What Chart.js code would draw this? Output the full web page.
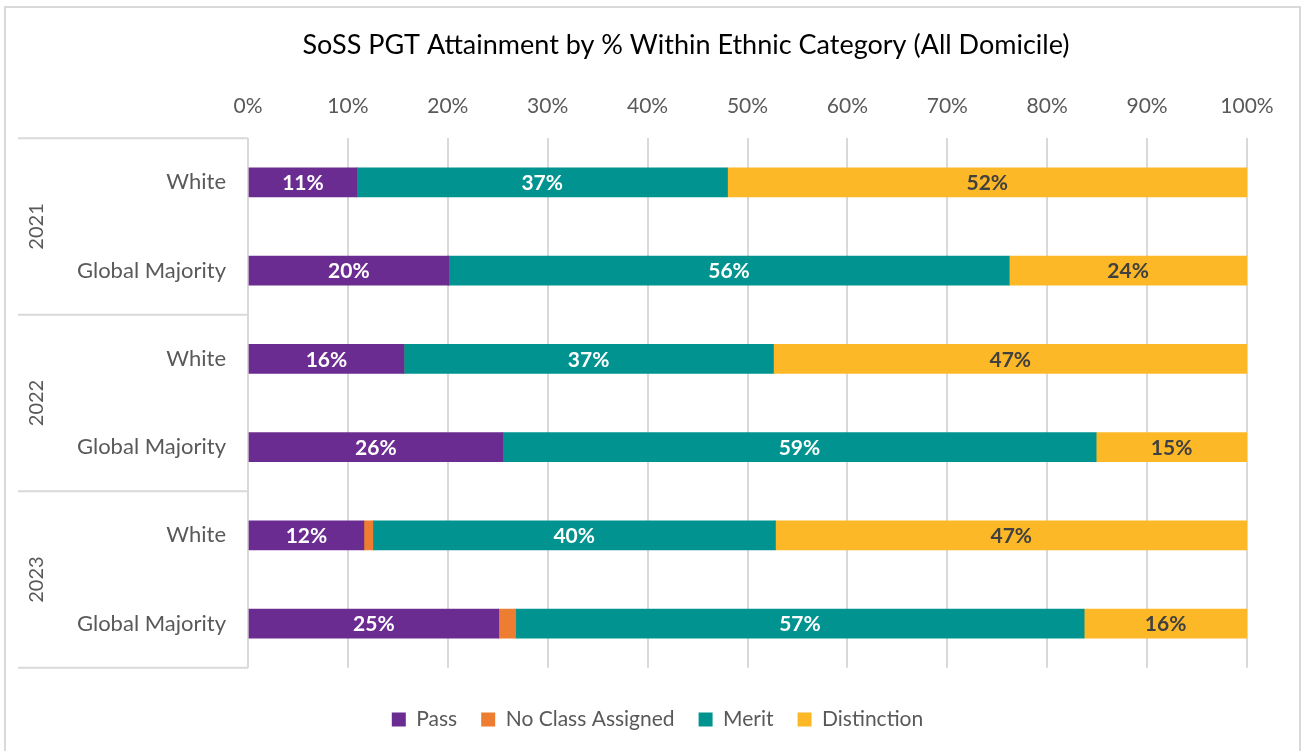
<!DOCTYPE html>
<html>
<head>
<meta charset="utf-8">
<script src="https://cdn.jsdelivr.net/npm/chart.js@4"></script>
<style>
  html, body { margin: 0; padding: 0; background: #fff; }
  #wrap { position: relative; width: 1303px; height: 751px; overflow: hidden; }
  #frame { position: absolute; left: 4px; top: 6px; width: 1297px; height: 770px; border: 2px solid #d9d9d9; box-sizing: border-box; pointer-events: none; }
</style>
</head>
<body>
<div id="wrap">
  <canvas id="chart1" width="1303" height="751"></canvas>
  <div id="frame"></div>
</div>
<script>
// DATA
// -----------------------------
let chartTitle = 'SoSS PGT Attainment by % Within Ethnic Category (All Domicile)';
let years = ['2021', '2022', '2023'];
let ethnicities = ['White', 'Global Majority'];
let rowLabels = ['White', 'Global Majority', 'White', 'Global Majority', 'White', 'Global Majority'];
let pass = [10.9, 20.1, 15.6, 25.5, 11.6, 25.1];
let noClass = [0, 0, 0, 0, 0.9, 1.7];
let merit = [37.1, 56.1, 37.0, 59.4, 40.3, 56.9];
let distinction = [52.0, 23.8, 47.4, 15.1, 47.2, 16.3];
let xTicks = [0, 10, 20, 30, 40, 50, 60, 70, 80, 90, 100];

const FONT = 'Lato, "Open Sans", sans-serif';
const GREY = '#595959';
const LINE = '#d9d9d9';

// title, drawn by hand so it can sit off-centre like the original
const titlePlugin = {
  id: 'titlePlugin',
  afterLayout(chart) {
    // nudge the legend to the right, as in the original
    chart.legend.left += 34;
    chart.legend.right += 34;
  },
  afterDraw(chart) {
    const ctx = chart.ctx;
    ctx.save();
    ctx.font = '27px ' + FONT;
    ctx.fillStyle = '#000000';
    ctx.textAlign = 'center';
    ctx.textBaseline = 'middle';
    ctx.fillText(chartTitle, 686, 45);
    ctx.restore();
  }
};

// value labels inside the bars
const barLabels = {
  id: 'barLabels',
  afterDatasetsDraw(chart) {
    const ctx = chart.ctx;
    ctx.save();
    ctx.font = 'bold 21px ' + FONT;
    ctx.textAlign = 'center';
    ctx.textBaseline = 'middle';
    chart.data.datasets.forEach((ds, i) => {
      if (!ds.labelColor) return;
      chart.getDatasetMeta(i).data.forEach((bar, j) => {
        const v = ds.data[j];
        if (v < 3) return;
        ctx.fillStyle = ds.labelColor;
        ctx.fillText(Math.round(v) + '%', (bar.x + bar.base) / 2, bar.y + 1);
      });
    });
    ctx.restore();
  }
};

// year groups on the left of the category labels
const yearGroups = {
  id: 'yearGroups',
  afterDraw(chart) {
    const ctx = chart.ctx;
    const area = chart.chartArea;
    const per = ethnicities.length;
    const step = (area.bottom - area.top) / rowLabels.length;
    ctx.save();
    ctx.strokeStyle = LINE;
    ctx.lineWidth = 2;
    for (let g = 0; g <= years.length; g++) {
      const y = area.top + g * per * step;
      ctx.beginPath();
      ctx.moveTo(18, y);
      ctx.lineTo(area.left, y);
      ctx.stroke();
    }
    ctx.fillStyle = GREY;
    ctx.font = '20px ' + FONT;
    ctx.textAlign = 'center';
    ctx.textBaseline = 'middle';
    years.forEach((yr, g) => {
      const cy = area.top + (g * per + per / 2) * step;
      ctx.save();
      ctx.translate(37, cy);
      ctx.rotate(-Math.PI / 2);
      ctx.fillText(yr, 0, 0);
      ctx.restore();
    });
    ctx.restore();
  }
};

let chart1Data = {
  type: 'bar',
  data: {
    labels: rowLabels,
    datasets: [
      { label: 'Pass', data: pass, backgroundColor: '#6b2c91', labelColor: '#ffffff' },
      { label: 'No Class Assigned', data: noClass, backgroundColor: '#ed7d31', labelColor: null },
      { label: 'Merit', data: merit, backgroundColor: '#009390', labelColor: '#ffffff' },
      { label: 'Distinction', data: distinction, backgroundColor: '#fdb827', labelColor: '#404040' },
    ],
  },
  options: {
    indexAxis: 'y',
    responsive: false,
    animation: false,
    events: [],
    barThickness: 29,
    layout: {
      padding: { top: 75, bottom: 11, left: 0, right: 56 },
    },
    scales: {
      x: {
        stacked: true,
        position: 'top',
        min: 0,
        max: 100,
        afterBuildTicks(scale) {
          scale.ticks = xTicks.map(v => ({ value: v }));
        },
        ticks: {
          callback: v => v + '%',
          color: GREY,
          font: { family: FONT, size: 21 },
          padding: 19,
          maxRotation: 0,
        },
        grid: { color: LINE, lineWidth: 2, drawTicks: false },
        border: { display: false },
      },
      y: {
        stacked: true,
        afterFit(scale) { scale.width = 248; },
        ticks: {
          color: GREY,
          font: { family: FONT, size: 22 },
          padding: 22,
        },
        grid: { display: false, drawTicks: false },
        border: { display: false },
      },
    },
    plugins: {
      title: { display: false },
      legend: {
        position: 'bottom',
        title: {
          display: true,
          text: ' ',
          font: { size: 1 },
          padding: { top: 16, bottom: 0 },
        },
        labels: {
          color: GREY,
          font: { family: FONT, size: 21 },
          boxWidth: 14,
          boxHeight: 14,
          padding: 24,
        },
      },
      tooltip: { enabled: false },
    },
  },
  plugins: [barLabels, yearGroups, titlePlugin],
};

new Chart(document.getElementById('chart1'), chart1Data);
</script>
</body>
</html>
